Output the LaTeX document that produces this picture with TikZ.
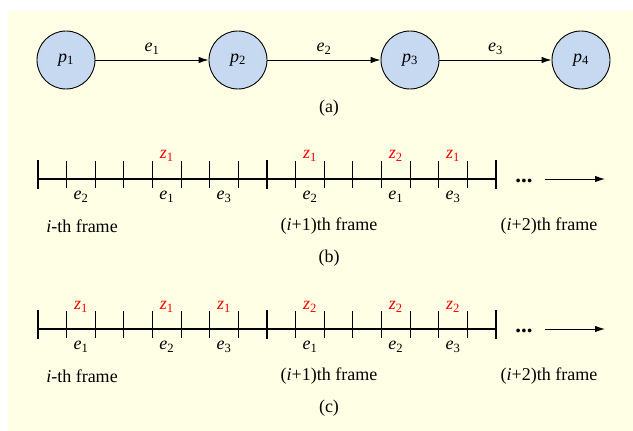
\documentclass[tikz,border=0pt]{standalone}
\usepackage{fontspec}
\setmainfont{Liberation Serif}
\usetikzlibrary{arrows.meta}
\definecolor{bgyellow}{RGB}{255,255,229}
\definecolor{nodeblue}{RGB}{198,217,240}
\definecolor{zred}{RGB}{255,0,0}
\newcommand{\ital}[2]{\textit{#1}\textsubscript{#2}}
\begin{document}
\begin{tikzpicture}[x=1pt,y=-1pt,
  every node/.style={font=\fontsize{18}{20}\selectfont, inner sep=0pt},
  place/.style={circle, draw, line width=0.9pt, fill=nodeblue, minimum size=58pt},
  flow/.style={-{Latex[length=10pt,width=6.5pt]}, line width=1pt},
  minortick/.style={line width=1.1pt},
  majortick/.style={line width=2.8pt},
  axis/.style={line width=1.1pt},
  zlab/.style={text=zred},
]
\useasboundingbox (0,0) rectangle (633,431);
\fill[bgyellow] (8,11) rectangle (633,431);

% (a)
\node[place] (p1) at (66,60) {\ital{p}{1}};
\node[place] (p2) at (238,60) {\ital{p}{2}};
\node[place] (p3) at (410,60) {\ital{p}{3}};
\node[place] (p4) at (581,60) {\ital{p}{4}};
\draw[flow] (p1) -- node[above=5pt] (l1) {\ital{e}{1}} (p2);
\draw[flow] (p2) -- node[above=5pt] (l2) {\ital{e}{2}} (p3);
\draw[flow] (p3) -- node[above=5pt] (l3) {\ital{e}{3}} (p4);
\node (capa) at (329,108) {(a)};

% timelines
\foreach \row/\yy/\cap in {b/179/(b), c/329/(c)}{
  \coordinate (\row s) at (38,\yy);
  \coordinate (\row e) at (496,\yy);
  \draw[axis] (\row s) -- (\row e);
  \foreach \k in {1,...,7,9,10,...,15}{
    \draw[minortick] ({38+\k*28.625},\yy-18) -- ({38+\k*28.625},\yy+9);
  }
  \foreach \k in {0,8,16}{
    \draw[majortick] ({38+\k*28.625},\yy-19) -- ({38+\k*28.625},\yy+10);
  }
  \node (\row f0) at (82,\yy+47) {\textit{i}-th frame};
  \node (\row f1) at (329,\yy+47) {(\textit{i}+1)th frame};
  \node (\row f2) at (549,\yy+47) {(\textit{i}+2)th frame};
  \node[anchor=base, font=\fontsize{23}{24}\selectfont\bfseries] (\row dots) at (524,\yy+3) {...};
  \coordinate (\row a1) at (545,\yy);
  \coordinate (\row a2) at (605,\yy);
  \draw[flow] (\row a1) -- (\row a2);
  \node (\row cap) at (329,\yy+79) {\cap};
}
% row b labels
\foreach \k/\s in {1/2,4/1,6/3,9/2,12/1,14/3}{
  \node (be\k) at ({38+(\k+0.5)*28.625},197) {\ital{e}{\s}};
}
\foreach \k/\s in {4/1,9/1,12/2,14/1}{
  \node[zlab] (bz\k) at ({38+(\k+0.5)*28.625},156) {\ital{z}{\s}};
}
% row c labels
\foreach \k/\s in {1/1,4/2,6/3,9/1,12/2,14/3}{
  \node (ce\k) at ({38+(\k+0.5)*28.625},347) {\ital{e}{\s}};
}
\foreach \k/\s in {1/1,4/1,6/1,9/2,12/2,14/2}{
  \node[zlab] (cz\k) at ({38+(\k+0.5)*28.625},307) {\ital{z}{\s}};
}
\end{tikzpicture}
\end{document}
